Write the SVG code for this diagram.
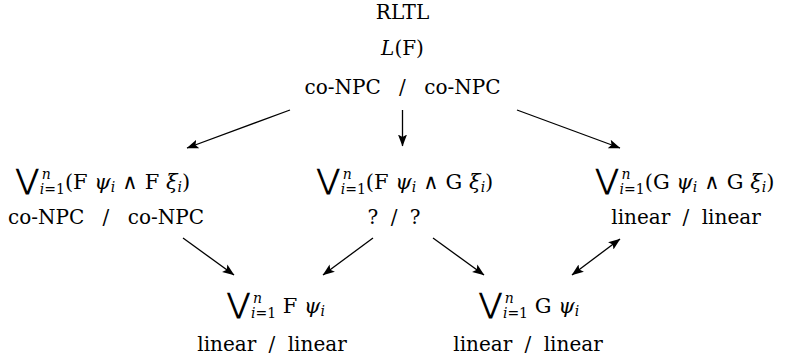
<svg xmlns="http://www.w3.org/2000/svg" width="788" height="362" viewBox="0 0 788 362">
<style>
text{font-family:"DejaVu Serif","Liberation Serif",serif;font-size:20px;fill:#000;white-space:pre}
.f{font-size:21px}
.st{word-spacing:6px}
.st2{word-spacing:12px}
.it{font-style:italic}
.sc{font-size:14px}
.vee{font-family:"DejaVu Sans",sans-serif;font-size:28px}
.op{font-family:"DejaVu Sans",sans-serif;font-size:21px}
.ar{stroke:#000;stroke-width:1.3;fill:none}
</style>
<defs>
<marker id="h" viewBox="0 0 12 10" refX="11.5" refY="5" markerWidth="12" markerHeight="10" markerUnits="userSpaceOnUse" orient="auto-start-reverse">
<path d="M0,0.5 L12,5 L0,9.5 L2.5,5 z" fill="#000"/>
</marker>
</defs>
<g id="top">
<text x="402.5" y="19" text-anchor="middle">RLTL</text>
<text x="402.5" y="55" text-anchor="middle"><tspan class="it">L</tspan>(F)</text>
<text class="st2" x="402.5" y="94" text-anchor="middle">co-NPC / co-NPC</text>
</g>
<g id="n-FF">
<text class="f" x="103" y="189" text-anchor="middle"><tspan class="vee">⋁</tspan><tspan class="sc it" dx="3" dy="-10">n</tspan><tspan class="sc it" dx="-11" dy="15">i</tspan><tspan class="sc">=1</tspan><tspan dy="-5">(F </tspan><tspan class="it">ψ</tspan><tspan class="sc it" dy="3">i</tspan><tspan class="op" dx="7" dy="-3">∧</tspan><tspan dx="7">F </tspan><tspan class="it">ξ</tspan><tspan class="sc it" dy="3">i</tspan><tspan dy="-3">)</tspan></text>
<text class="st2" x="106" y="224" text-anchor="middle">co-NPC / co-NPC</text>
</g>
<g id="n-FG">
<text class="f" x="405" y="189" text-anchor="middle"><tspan class="vee">⋁</tspan><tspan class="sc it" dx="3" dy="-10">n</tspan><tspan class="sc it" dx="-11" dy="15">i</tspan><tspan class="sc">=1</tspan><tspan dy="-5">(F </tspan><tspan class="it">ψ</tspan><tspan class="sc it" dy="3">i</tspan><tspan class="op" dx="7" dy="-3">∧</tspan><tspan dx="7">G </tspan><tspan class="it">ξ</tspan><tspan class="sc it" dy="3">i</tspan><tspan dy="-3">)</tspan></text>
<text class="st" x="394" y="224" text-anchor="middle">? / ?</text>
</g>
<g id="n-GG">
<text class="f" x="685" y="189" text-anchor="middle"><tspan class="vee">⋁</tspan><tspan class="sc it" dx="3" dy="-10">n</tspan><tspan class="sc it" dx="-11" dy="15">i</tspan><tspan class="sc">=1</tspan><tspan dy="-5">(G </tspan><tspan class="it">ψ</tspan><tspan class="sc it" dy="3">i</tspan><tspan class="op" dx="7" dy="-3">∧</tspan><tspan dx="7">G </tspan><tspan class="it">ξ</tspan><tspan class="sc it" dy="3">i</tspan><tspan dy="-3">)</tspan></text>
<text class="st" x="686" y="224" text-anchor="middle">linear / linear</text>
</g>
<g id="n-F">
<text class="f" x="276" y="313" text-anchor="middle"><tspan class="vee">⋁</tspan><tspan class="sc it" dx="3" dy="-10">n</tspan><tspan class="sc it" dx="-11" dy="15">i</tspan><tspan class="sc">=1</tspan><tspan dy="-5"> F </tspan><tspan class="it">ψ</tspan><tspan class="sc it" dy="3">i</tspan></text>
<text class="st" x="272" y="351" text-anchor="middle">linear / linear</text>
</g>
<g id="n-G">
<text class="f" x="529" y="313" text-anchor="middle"><tspan class="vee">⋁</tspan><tspan class="sc it" dx="3" dy="-10">n</tspan><tspan class="sc it" dx="-11" dy="15">i</tspan><tspan class="sc">=1</tspan><tspan dy="-5"> G </tspan><tspan class="it">ψ</tspan><tspan class="sc it" dy="3">i</tspan></text>
<text class="st" x="528" y="351" text-anchor="middle">linear / linear</text>
</g>
<g id="connectors">
<line class="ar" x1="290" y1="110" x2="187" y2="148" marker-end="url(#h)"/>
<line class="ar" x1="402.5" y1="110" x2="402.5" y2="146" marker-end="url(#h)"/>
<line class="ar" x1="517" y1="110" x2="620" y2="148" marker-end="url(#h)"/>
<line class="ar" x1="183" y1="238" x2="234" y2="275" marker-end="url(#h)"/>
<line class="ar" x1="373" y1="238" x2="323" y2="275" marker-end="url(#h)"/>
<line class="ar" x1="433" y1="238" x2="484" y2="275" marker-end="url(#h)"/>
<line class="ar" x1="572" y1="275" x2="620" y2="239" marker-start="url(#h)" marker-end="url(#h)"/>
</g>
</svg>
